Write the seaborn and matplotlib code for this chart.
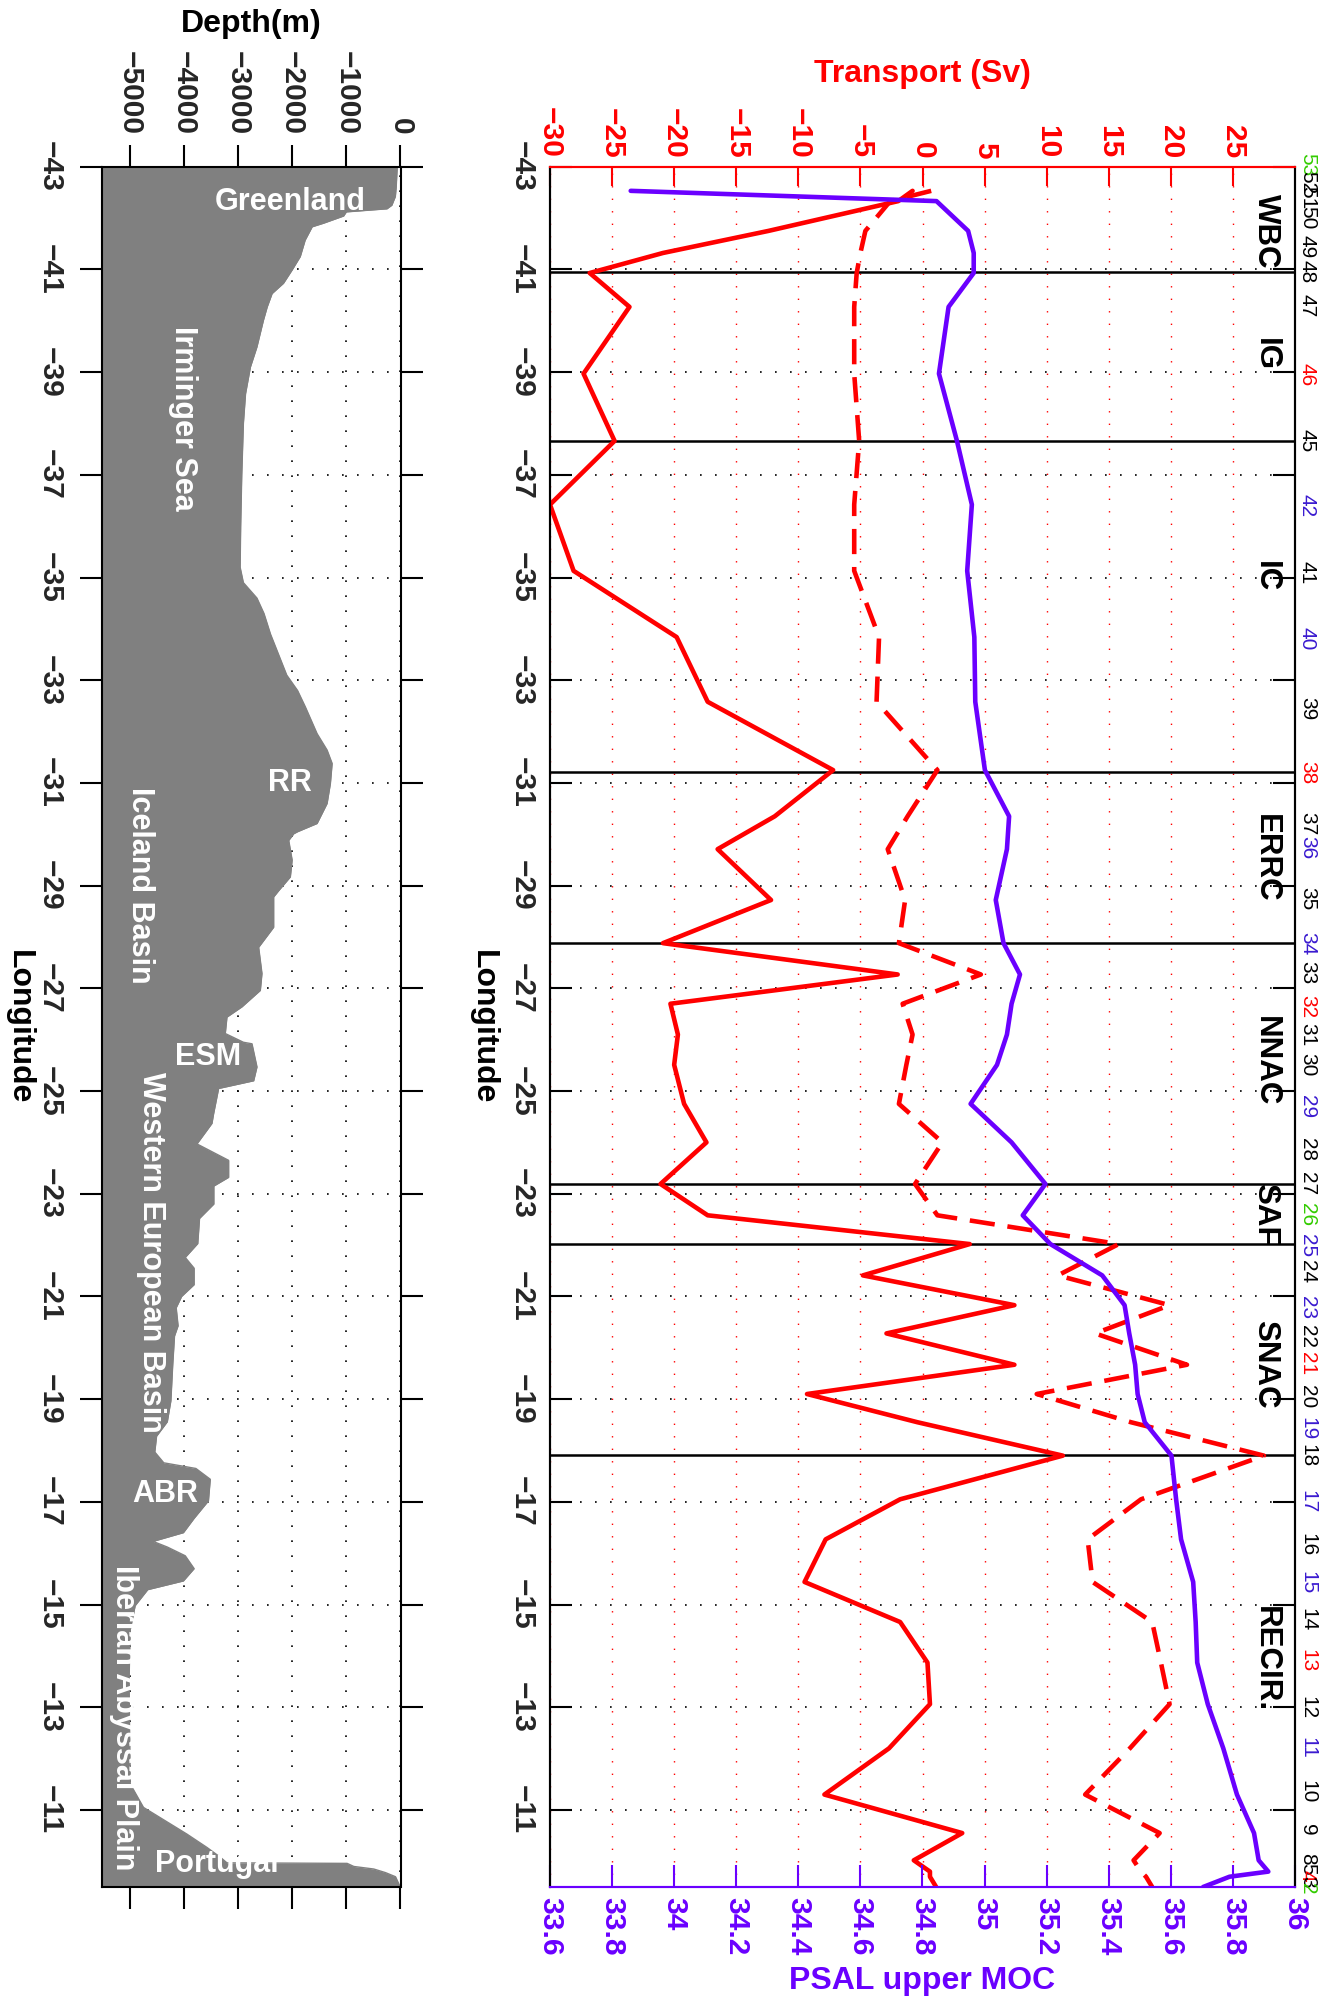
import matplotlib
matplotlib.use("Agg")
import matplotlib.pyplot as plt
import matplotlib.transforms as mtransforms
import seaborn as sns

# ---------------- data ----------------
# longitude of the section points (shared by the three curves)
lon_sec = [-42.53, -42.33, -41.75, -41.32, -40.93, -40.27, -38.97, -37.66, -36.42, -35.13,
           -33.84, -32.58, -31.25, -30.35, -29.71, -28.72, -27.88, -27.27, -26.70, -26.10,
           -25.51, -24.75, -24.00, -23.19, -22.58, -22.02, -21.41, -20.83, -20.28, -19.67,
           -19.10, -18.55, -17.90, -17.05, -16.27, -15.44, -14.66, -13.87, -13.06, -12.20,
           -11.30, -10.55, -10.02, -9.80, -9.70, -9.50]

# transport (Sv), solid red
transport_total = [-0.8, -1.95, -12.4, -20.9, -26.8, -23.6, -27.3, -24.8, -30.0, -28.1,
                   -19.8, -17.3, -7.2, -11.9, -16.5, -12.2, -20.9, -2.0, -20.3, -19.7,
                   -20.0, -19.2, -17.4, -21.1, -17.3, 3.8, -4.8, 7.4, -2.9, 7.4,
                   -9.3, -0.4, 11.3, -1.8, -7.8, -9.5, -1.8, 0.4, 0.6, -2.7,
                   -7.9, 3.2, -0.7, 0.6, 0.6, 1.1]

# transport (Sv), dashed red
transport_upper = [0.7, -2.6, -4.6, -5.0, -5.3, -5.5, -5.5, -5.1, -5.5, -5.5,
                   -3.5, -3.7, 1.2, -1.2, -2.8, -1.4, -1.9, 4.7, -1.6, -0.8,
                   -1.3, -1.9, 1.6, -0.6, 1.2, 15.8, 10.9, 19.9, 13.9, 21.3,
                   9.2, 16.8, 27.5, 17.6, 13.3, 13.7, 18.5, 19.2, 19.9, 16.7,
                   13.1, 19.1, 17.0, 17.6, 18.0, 18.5]

# salinity of the upper MOC limb
psal = [33.860, 34.845, 34.947, 34.965, 34.965, 34.884, 34.853, 34.911, 34.959, 34.944,
        34.967, 34.970, 35.001, 35.079, 35.072, 35.036, 35.061, 35.114, 35.087, 35.072,
        35.040, 34.955, 35.087, 35.196, 35.123, 35.212, 35.379, 35.451, 35.466, 35.485,
        35.493, 35.516, 35.602, 35.617, 35.633, 35.672, 35.680, 35.685, 35.719, 35.769,
        35.813, 35.868, 35.883, 35.914, 35.789, 35.704]

# bathymetry along the section
bathy_lon = [-43.0, -42.6, -42.42, -42.25, -42.18, -42.12, -42.04, -41.9, -41.83, -41.57,
             -41.25, -40.99, -40.73, -40.53, -40.27, -40.01, -39.49, -39.1, -38.58, -38.0,
             -37.0, -36.0, -35.2, -34.9, -34.6, -34.3, -33.9, -33.5, -33.1, -32.8,
             -32.48, -31.96, -31.64, -31.38, -30.99, -30.6, -30.21, -30.05, -30.01, -29.88,
             -29.5, -29.17, -28.9, -28.78, -28.19, -27.8, -27.29, -26.96, -26.64, -26.44,
             -26.12, -25.95, -25.92, -25.47, -25.2, -25.05, -24.56, -24.37, -23.97, -23.65,
             -23.32, -23.15, -22.8, -22.52, -22.03, -21.76, -21.55, -21.23, -21.0, -20.78,
             -20.43, -20.23, -19.67, -18.97, -18.56, -18.28, -17.97, -17.76, -17.65, -17.44,
             -17.02, -16.68, -16.4, -16.23, -16.12, -15.95, -15.7, -15.46, -15.29, -14.98,
             -14.5, -13.5, -12.5, -11.51, -11.05, -10.89, -10.53, -10.27, -10.08, -9.97,
             -9.96, -9.9, -9.85, -9.78, -9.7, -9.56, -9.5]
bathy_depth = [-60, -80, -95, -160, -250, -1000, -1050, -1420, -1630, -1760,
               -1850, -2000, -2160, -2370, -2460, -2530, -2650, -2770, -2860, -2900,
               -2930, -2950, -2960, -2900, -2650, -2520, -2400, -2250, -2100, -1900,
               -1756, -1540, -1355, -1262, -1294, -1355, -1540, -1900, -1971, -2063,
               -2000, -2033, -2250, -2341, -2341, -2618, -2557, -2587, -2926, -3203,
               -3234, -2900, -2741, -2649, -2710, -3357, -3449, -3480, -3757, -3172,
               -3172, -3445, -3445, -3709, -3742, -3973, -3809, -3809, -4040, -4140,
               -4105, -4171, -4204, -4238, -4304, -4502, -4535, -4369, -3776, -3511,
               -3545, -3809, -4007, -4567, -4304, -3973, -3809, -4007, -4666, -4897,
               -4990, -5010, -5000, -4990, -4744, -4497, -3942, -3572, -3326, -3203,
               -985, -862, -493, -277, -92, -31, -10]

# current regimes
bound_lon = [-40.95, -37.66, -31.22, -27.88, -23.19, -22.02, -17.92]
region_names = ["WBC", "IG", "IC", "ERRC", "NNAC", "SAF", "SNAC", "RECIR."]
region_lon = [-41.75, -39.35, -35.02, -29.54, -25.58, -22.6, -19.68, -13.93]

# station numbers (k black, r red, b blue, g green)
station_num = [53, 52, 51, 50, 49, 48, 47, 46, 45, 42, 41, 40, 39, 38, 37, 36, 35, 34, 33, 32,
               31, 30, 29, 28, 27, 26, 25, 24, 23, 22, 21, 20, 19, 18, 17, 16, 15, 14, 13, 12,
               11, 10, 9, 8, 5, 4, 3, 2]
station_lon = [-43.05, -42.7, -42.4, -42.0, -41.45, -40.95, -40.3, -38.95, -37.66, -36.4,
               -35.1, -33.8, -32.45, -31.2, -30.2, -29.74, -28.74, -27.87, -27.3, -26.65,
               -26.09, -25.52, -24.7, -23.87, -23.2, -22.6, -22.0, -21.48, -20.78, -20.22,
               -19.7, -19.04, -18.43, -17.9, -17.0, -16.17, -15.42, -14.71, -13.9, -12.99,
               -12.2, -11.36, -10.62, -10.05, -9.85, -9.72, -9.6, -9.47]
station_col = ["g", "k", "k", "k", "k", "k", "k", "r", "k", "b",
               "k", "b", "k", "r", "k", "b", "k", "b", "k", "r",
               "k", "k", "b", "k", "k", "g", "b", "k", "b", "k",
               "r", "k", "b", "k", "b", "k", "b", "k", "r", "k",
               "b", "k", "k", "k", "k", "r", "k", "g"]

lon_ticks = list(range(-43, -10, 2))
depth_ticks = [-5000, -4000, -3000, -2000, -1000, 0]
sv_ticks = [-30, -25, -20, -15, -10, -5, 0, 5, 10, 15, 20, 25]
psal_ticks = [33.6, 33.8, 34.0, 34.2, 34.4, 34.6, 34.8, 35.0, 35.2, 35.4, 35.6, 35.8, 36.0]
psal_tick_labels = ["33.6", "33.8", "34", "34.2", "34.4", "34.6", "34.8", "35",
                    "35.2", "35.4", "35.6", "35.8", "36"]

# ---------------- style ----------------
sns.set_theme(style="white")
plt.rcParams["font.family"] = ["Liberation Sans", "DejaVu Sans"]
plt.rcParams["font.weight"] = "bold"
plt.rcParams["axes.unicode_minus"] = True

RED = "#ff0000"
PURPLE = "#6a00ff"
BLUE = "#3a1ad0"
GREEN = "#33cc00"
GREY = "#808080"
colmap = {"k": "black", "r": RED, "b": BLUE, "g": GREEN}
dots = (0, (1, 8))
TICK_FS = 21.5
LABEL_FS = 23

fig = plt.figure(figsize=(13.24, 20.04), dpi=100)
axd = fig.add_axes([102.5 / 1324, 1 - 1887 / 2004, 298 / 1324, 1720.3 / 2004])
axt = fig.add_axes([550 / 1324, 1 - 1887 / 2004, 745 / 1324, 1720.3 / 2004])

# ---------------- bathymetry panel ----------------
axd.set_axisbelow(True)
axd.fill_betweenx(bathy_lon, -5500, bathy_depth, color=GREY, lw=0, zorder=2)
sns.lineplot(x=bathy_depth, y=bathy_lon, sort=False, estimator=None,
             color=GREY, lw=1, ax=axd, zorder=2)
axd.set_xlim(-5500, 0)
axd.set_ylim(-9.5, -43)
axd.set_xticks(depth_ticks)
axd.set_yticks(lon_ticks)
axd.grid(True, color="black", linestyle=dots, linewidth=1.2)
axd.xaxis.tick_top()
axd.tick_params(axis="both", direction="out", length=16, width=1.5, color="black",
                labelsize=TICK_FS, labelrotation=-90,
                top=True, bottom=True, left=True, right=True,
                labeltop=True, labelbottom=False, labelleft=True, labelright=False)
axd.tick_params(axis="x", pad=7)
axd.tick_params(axis="y", pad=12)
for lab in axd.get_yticklabels():
    lab.set_va("center")
for sp in axd.spines.values():
    sp.set_color("black")
    sp.set_linewidth(1.5)
    sp.set_zorder(3)

axd.xaxis.set_label_position("top")
axd.set_xlabel("Depth(m)", fontsize=LABEL_FS, fontweight="bold", color="black", va="center")
axd.xaxis.set_label_coords(0.5, 1.083)
axd.set_ylabel("Longitude", fontsize=LABEL_FS, fontweight="bold", color="black",
               rotation=-90, va="center", ha="center")
axd.yaxis.set_label_coords(-0.280, 0.5)

for name, x, y, rot in [("Greenland", -2039, -42.32, 0), ("Irminger Sea", -4014, -38.1, -90),
                        ("RR", -2039, -30.99, 0), ("Iceland Basin", -4808, -29.01, -90),
                        ("ESM", -3547, -25.66, 0), ("Western European Basin", -4605, -21.85, -90),
                        ("ABR", -4339, -17.16, 0), ("Iberian Abyssal Plain", -5110, -12.8, -90),
                        ("Portugal", -3392, -9.95, 0)]:
    axd.text(x, y, name, color="white", fontsize=22, fontweight="bold", rotation=rot,
             ha="center", va="center", zorder=4, clip_on=True)

# ---------------- transport / salinity panel ----------------
for b in bound_lon:
    axt.axhline(b, color="black", lw=1.8, zorder=1.6)

sns.lineplot(x=transport_total, y=lon_sec, sort=False, estimator=None,
             color=RED, lw=3.3, ax=axt, zorder=3)
sns.lineplot(x=transport_upper, y=lon_sec, sort=False, estimator=None,
             color=RED, lw=3.3, ax=axt, zorder=3)
axt.lines[-1].set_dashes([5.5, 2.8])

ax2 = axt.twiny()
sns.lineplot(x=psal, y=lon_sec, sort=False, estimator=None,
             color=PURPLE, lw=3.3, ax=ax2, zorder=3)

axt.set_xlim(-30, 30)
axt.set_ylim(-9.5, -43)
axt.set_xticks(sv_ticks)
axt.set_yticks(lon_ticks)
ax2.set_xlim(33.6, 36)
ax2.set_xticks(psal_ticks)
ax2.set_xticklabels(psal_tick_labels)

axt.grid(True, axis="x", color=RED, linestyle=dots, linewidth=1.0)
axt.grid(True, axis="y", color="black", linestyle=dots, linewidth=1.2)
ax2.grid(False)

axt.xaxis.tick_top()
axt.tick_params(axis="x", direction="in", length=14, width=1.5, color=RED, labelcolor=RED,
                labelsize=TICK_FS, labelrotation=-90, pad=6,
                top=True, bottom=False, labeltop=True, labelbottom=False)
axt.tick_params(axis="y", direction="in", length=16, width=1.5, color="black",
                labelsize=TICK_FS, labelrotation=-90, pad=10,
                left=True, right=True, labelleft=True, labelright=False)
for lab in axt.get_yticklabels():
    lab.set_va("center")
ax2.xaxis.tick_bottom()
ax2.tick_params(axis="x", direction="in", length=16, width=1.5, color=PURPLE, labelcolor=PURPLE,
                labelsize=TICK_FS, labelrotation=-90, pad=7,
                top=False, bottom=True, labeltop=False, labelbottom=True)

for a in (axt, ax2):
    a.spines["top"].set_color(RED)
    a.spines["bottom"].set_color(PURPLE)
    a.spines["left"].set_color("black")
    a.spines["right"].set_color("black")
    for sp in a.spines.values():
        sp.set_linewidth(1.5)

axt.xaxis.set_label_position("top")
axt.set_xlabel("Transport (Sv)", fontsize=LABEL_FS, fontweight="bold", color=RED, va="center")
axt.xaxis.set_label_coords(0.5, 1.054)
ax2.xaxis.set_label_position("bottom")
ax2.set_xlabel("PSAL upper MOC", fontsize=LABEL_FS, fontweight="bold", color=PURPLE, va="center")
ax2.xaxis.set_label_coords(0.5, -0.0547)
axt.set_ylabel("Longitude", fontsize=LABEL_FS, fontweight="bold", color="black",
               rotation=-90, va="center", ha="center")
axt.yaxis.set_label_coords(-0.090, 0.5)

for name, rl in zip(region_names, region_lon):
    ax2.text(35.905, rl, name, rotation=-90, ha="center", va="center", fontsize=22.5,
             fontweight="bold", color="black", zorder=5)

trans = mtransforms.blended_transform_factory(axt.transAxes, axt.transData)
for n, sl, c in zip(station_num, station_lon, station_col):
    axt.text(1.004, sl, str(n), transform=trans, rotation=-90, ha="left", va="center",
             fontsize=15, fontweight="normal", color=colmap[c], clip_on=False)

fig.savefig("out.png", dpi=100)
